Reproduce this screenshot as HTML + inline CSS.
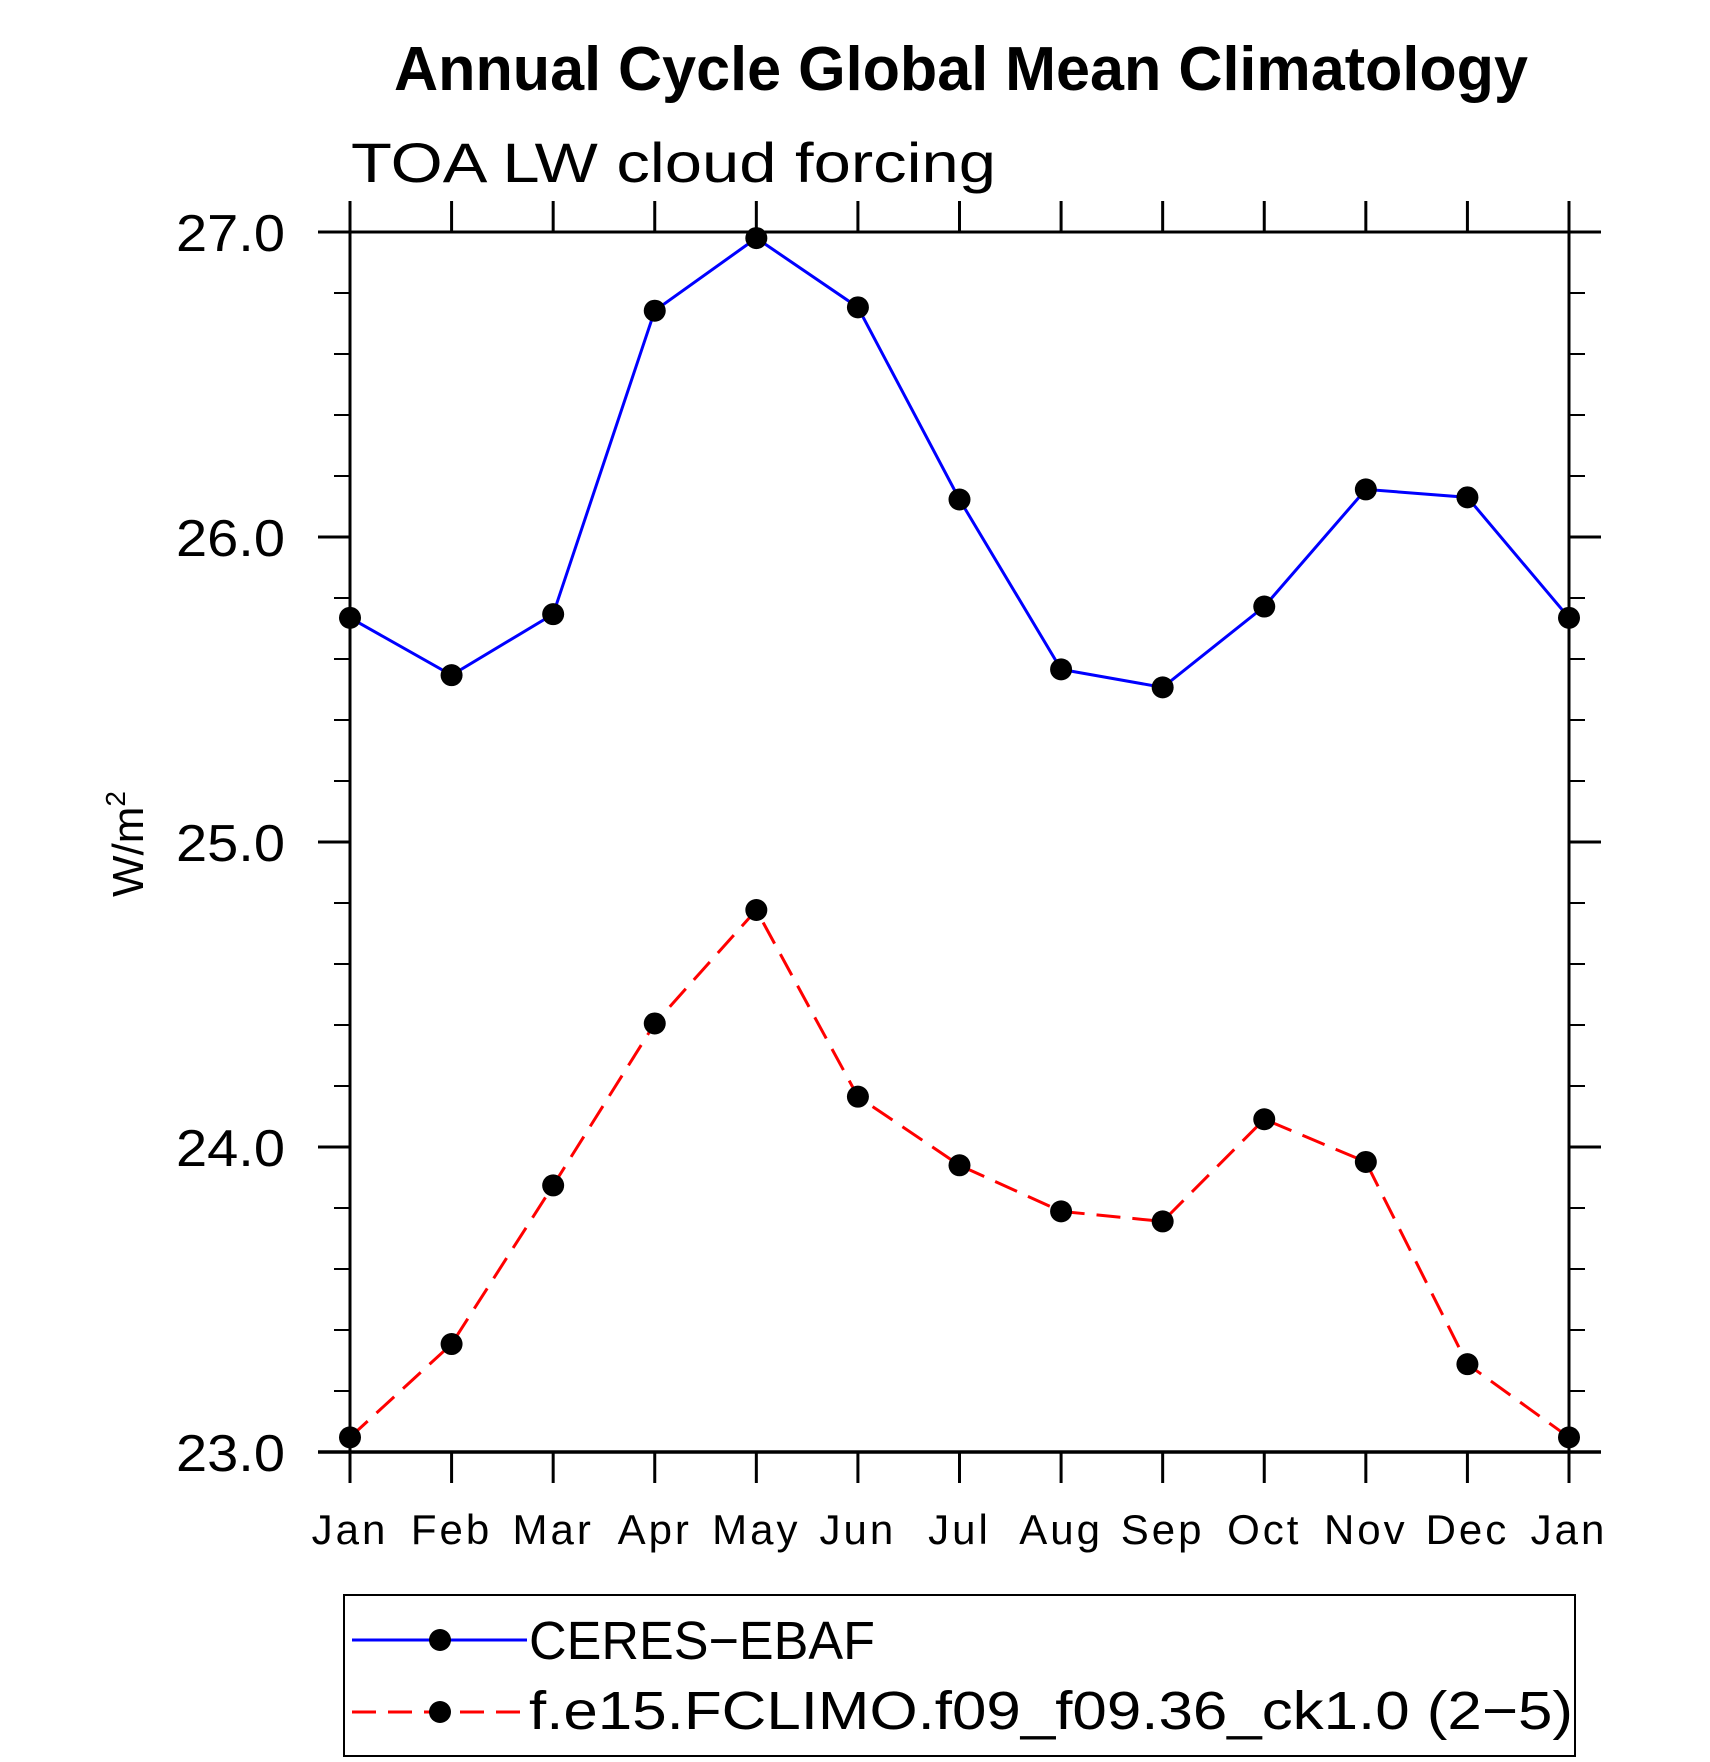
<!DOCTYPE html>
<html><head><meta charset="utf-8"><style>html,body{margin:0;padding:0;background:#fff}svg{display:block}</style></head>
<body>
<svg id="chart" width="1710" height="1762" viewBox="0 0 1710 1762" xmlns="http://www.w3.org/2000/svg" font-family="'Liberation Sans', sans-serif">
<text x="961" y="90" text-anchor="middle" font-weight="bold" font-size="62" textLength="1134" lengthAdjust="spacingAndGlyphs">Annual Cycle Global Mean Climatology</text>
<text x="351" y="182" font-size="56" textLength="645" lengthAdjust="spacingAndGlyphs">TOA LW cloud forcing</text>
<text transform="translate(143,844) rotate(-90)" text-anchor="middle" font-size="44">W/m<tspan font-size="28" dy="-18">2</tspan></text>
<g id="axes"></g>
<g id="series"></g>
<g>
<rect x="344" y="1595" width="1231" height="161" fill="none" stroke="#000" stroke-width="2"/>
<g>
<line x1="352" y1="1640" x2="527" y2="1640" stroke="#0000ff" stroke-width="3"/>
<circle cx="440" cy="1640" r="11" fill="#000"/>
<text x="529" y="1659" font-size="54" textLength="346" lengthAdjust="spacingAndGlyphs">CERES−EBAF</text>
</g>
<g>
<line x1="352" y1="1712" x2="527" y2="1712" stroke="#ff0000" stroke-width="3" stroke-dasharray="24 12"/>
<circle cx="440" cy="1712" r="11" fill="#000"/>
<text x="529" y="1729" font-size="54" textLength="1044" lengthAdjust="spacingAndGlyphs">f.e15.FCLIMO.f09_f09.36_ck1.0 (2−5)</text>
</g>
</g>
</svg>
<script>
const months = ["Jan","Feb","Mar","Apr","May","Jun","Jul","Aug","Sep","Oct","Nov","Dec","Jan"];
const ceres = [25.735,25.547,25.747,26.742,26.98,26.753,26.123,25.566,25.507,25.772,26.156,26.13,25.735];
const model = [23.048,23.354,23.874,24.405,24.777,24.165,23.94,23.789,23.756,24.091,23.951,23.288,23.048];
const yTicks = [23,24,25,26,27];
const yTickLabels = ["23.0","24.0","25.0","26.0","27.0"];

const L=350,R=1569,T=232,B=1452,yMin=23,yMax=27;
const xs=i=>L+(R-L)*i/(months.length-1);
const ys=v=>B-(B-T)*(v-yMin)/(yMax-yMin);
const NS="http://www.w3.org/2000/svg";
function mk(tag,attrs,parent){const e=document.createElementNS(NS,tag);for(const k in attrs)e.setAttribute(k,attrs[k]);parent.appendChild(e);return e;}
const ax=document.getElementById('axes');
let e=mk('rect',{x:L,y:T,width:R-L,height:B-T,fill:'none',stroke:'#000','stroke-width':3},ax);


e=mk('line',{x1:L-32,y1:B,x2:R+32,y2:B,stroke:'#000','stroke-width':3.5},ax);


e=mk('line',{x1:L-32,y1:T,x2:R+32,y2:T,stroke:'#000','stroke-width':3},ax);


months.forEach((m,i)=>{
  const x=xs(i);
  let t=mk('line',{x1:x,y1:B,x2:x,y2:B+31,stroke:'#000','stroke-width':3},ax);
  
  
  t=mk('line',{x1:x,y1:T,x2:x,y2:T-31,stroke:'#000','stroke-width':3},ax);
  
  
  const tx=mk('text',{x:x,y:1544,'text-anchor':'middle','font-size':42,'letter-spacing':3},ax);
  tx.textContent=m;
  
  
});
for(let v=yMin;v<=yMax+1e-9;v+=0.2){
  const y=ys(v);const major=Math.abs(v-Math.round(v))<1e-6;const len=major?32:16;
  let t=mk('line',{x1:L-len,y1:y,x2:L,y2:y,stroke:'#000','stroke-width':major?3:2},ax);
  
  
  t=mk('line',{x1:R,y1:y,x2:R+len,y2:y,stroke:'#000','stroke-width':major?3:2},ax);
  
  
}
yTicks.forEach((v,i)=>{
  const tx=mk('text',{x:285,y:ys(v)+19,'text-anchor':'end','font-size':52,textLength:109,lengthAdjust:'spacingAndGlyphs'},ax);
  tx.textContent=yTickLabels[i];
  
  
});
const sg=document.getElementById('series');
function draw(vals,color,dash,name){
  const pts=vals.map((v,i)=>xs(i)+','+ys(v)).join(' ');
  const p=mk('polyline',{points:pts,fill:'none',stroke:color,'stroke-width':3},sg);
  if(dash)p.setAttribute('stroke-dasharray',dash);
  
  
  vals.forEach((v,i)=>{
    const c=mk('circle',{cx:xs(i),cy:ys(v),r:11,fill:'#000'},sg);
    
    
  });
}
draw(ceres,'#0000ff',null,'ceres');
draw(model,'#ff0000','24 12','model');
</script>
</body></html>
